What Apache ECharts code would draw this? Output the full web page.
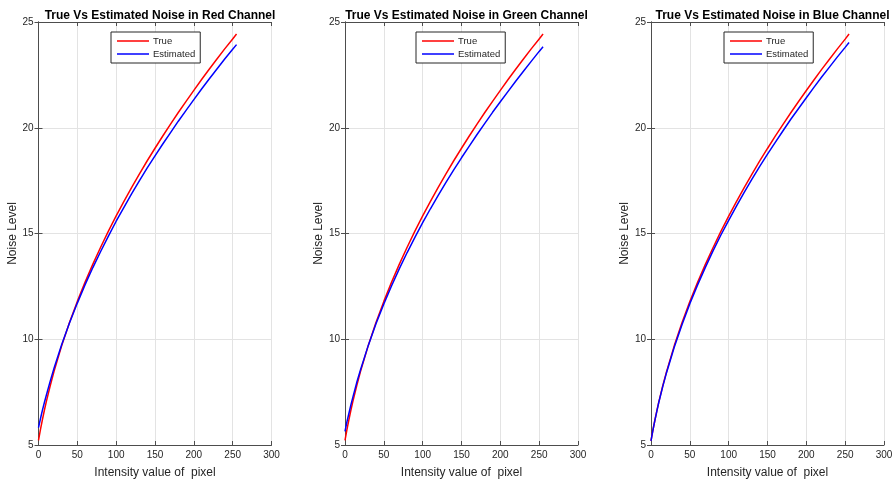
<!DOCTYPE html>
<html>
<head>
<meta charset="utf-8">
<title>True Vs Estimated Noise</title>
<script src="https://cdn.jsdelivr.net/npm/echarts@6/dist/echarts.min.js"></script>
<style>
    html, body { margin: 0; padding: 0; background: #fff; }
    #noise_chart { width: 896px; height: 485px; }
</style>
</head>
<body>
<div id="noise_chart"></div>
<script>

// Chart data
// ------------------------------

var channelNames = ['Red', 'Green', 'Blue'];
var xTicks = [0, 50, 100, 150, 200, 250, 300];
var yTicks = [5, 10, 15, 20, 25];

// Intensity samples shared by all curves
var intensity = [0, 2.5, 5, 7.5, 10, 15, 20, 30, 40, 50, 60, 70, 80, 90, 100, 110, 120, 130, 140, 150, 160, 170, 180, 190, 200, 210, 220, 230, 240, 250, 255];

// Red channel
var redTrue = [5.22, 5.73, 6.19, 6.63, 7.04, 7.79, 8.48, 9.71, 10.80, 11.79, 12.70, 13.55, 14.35, 15.11, 15.83, 16.52, 17.18, 17.82, 18.44, 19.03, 19.61, 20.17, 20.72, 21.25, 21.77, 22.28, 22.78, 23.26, 23.74, 24.20, 24.43];
var redEstimated = [5.82, 6.24, 6.64, 7.00, 7.34, 8.01, 8.63, 9.76, 10.78, 11.71, 12.58, 13.39, 14.15, 14.88, 15.58, 16.24, 16.88, 17.50, 18.10, 18.67, 19.23, 19.77, 20.31, 20.82, 21.33, 21.83, 22.32, 22.79, 23.26, 23.71, 23.93];

// Green channel
var greenTrue = [5.22, 5.73, 6.19, 6.63, 7.04, 7.79, 8.48, 9.71, 10.80, 11.79, 12.70, 13.55, 14.35, 15.11, 15.83, 16.52, 17.18, 17.82, 18.44, 19.03, 19.61, 20.17, 20.72, 21.25, 21.77, 22.28, 22.78, 23.26, 23.74, 24.20, 24.43];
var greenEstimated = [5.64, 6.10, 6.49, 6.88, 7.24, 7.94, 8.56, 9.71, 10.74, 11.67, 12.53, 13.34, 14.10, 14.82, 15.51, 16.17, 16.80, 17.42, 18.01, 18.58, 19.13, 19.68, 20.21, 20.73, 21.23, 21.72, 22.21, 22.68, 23.15, 23.61, 23.83];

// Blue channel
var blueTrue = [5.20, 5.71, 6.17, 6.61, 7.03, 7.78, 8.47, 9.70, 10.79, 11.78, 12.69, 13.54, 14.34, 15.10, 15.82, 16.51, 17.17, 17.81, 18.43, 19.02, 19.60, 20.16, 20.71, 21.24, 21.76, 22.27, 22.77, 23.25, 23.73, 24.19, 24.43];
var blueEstimated = [5.20, 5.70, 6.16, 6.59, 7.01, 7.75, 8.42, 9.63, 10.70, 11.68, 12.57, 13.40, 14.19, 14.93, 15.62, 16.29, 16.94, 17.57, 18.17, 18.75, 19.31, 19.86, 20.40, 20.91, 21.42, 21.92, 22.41, 22.88, 23.35, 23.80, 24.03];


// Setup module
// ------------------------------

var NoiseChannels = function() {

    var _noiseChannelsChart = function() {
        if (typeof echarts == 'undefined') {
            console.warn('Warning - echarts.min.js is not loaded.');
            return;
        }

        var chart_element = document.getElementById('noise_chart');
        if (!chart_element) {
            return;
        }

        var noise_chart = echarts.init(chart_element);

        // Panel layout
        var panelLeft = [38.5, 345, 651];
        var panelWidth = 233;
        var panelTop = 22;
        var panelHeight = 423;
        var legendLeft = [111, 416, 724];

        var axisColor = '#4d4d4d';
        var textColor = '#262626';
        var fontFamily = 'Liberation Sans, Arial, sans-serif';

        var pairs = function(values) {
            return intensity.map(function(x, i) {
                return [x, values[i]];
            });
        };

        var trueSets = [redTrue, greenTrue, blueTrue];
        var estSets = [redEstimated, greenEstimated, blueEstimated];

        var grids = [], xAxes = [], yAxes = [], titles = [], legends = [], series = [];

        channelNames.forEach(function(name, i) {
            grids.push({
                left: panelLeft[i],
                top: panelTop,
                width: panelWidth,
                height: panelHeight,
                containLabel: false
            });

            titles.push({
                text: 'True Vs Estimated Noise in ' + name + ' Channel',
                left: panelLeft[i] + panelWidth / 2,
                top: 5,
                textAlign: 'center',
                textStyle: {
                    fontFamily: fontFamily,
                    fontSize: 12,
                    fontWeight: 'bold',
                    color: '#000'
                }
            });

            legends.push({
                data: ['True', 'Estimated'],
                orient: 'vertical',
                left: legendLeft[i],
                top: 32,
                padding: [4, 5, 4, 6],
                icon: 'path://M0,0 L32,0 L32,1.5 L0,1.5 Z',
                itemWidth: 32,
                itemHeight: 10,
                itemGap: 3,
                backgroundColor: '#fff',
                borderColor: '#262626',
                borderWidth: 1,
                borderRadius: 0,
                selectedMode: false,
                textStyle: {
                    fontFamily: fontFamily,
                    fontSize: 9.5,
                    color: textColor,
                    padding: [0, 0, 0, -1]
                }
            });
        });

        // Bottom/left axes carry the labels, top/right axes close the box
        for (var k = 0; k < 2; k++) {
            channelNames.forEach(function(name, i) {
                var labelled = (k === 0);
                xAxes.push({
                    type: 'value',
                    gridIndex: i,
                    position: labelled ? 'bottom' : 'top',
                    min: xTicks[0],
                    max: xTicks[xTicks.length - 1],
                    interval: 50,
                    name: labelled ? 'Intensity value of  pixel' : '',
                    nameLocation: 'middle',
                    nameGap: 22,
                    nameTextStyle: {
                        fontFamily: fontFamily,
                        fontSize: 12,
                        color: textColor
                    },
                    axisLine: { show: true, lineStyle: { color: axisColor, width: 1 } },
                    axisTick: { show: true, inside: true, length: 4, lineStyle: { color: axisColor } },
                    axisLabel: {
                        show: labelled,
                        margin: 5,
                        fontFamily: fontFamily,
                        fontSize: 10,
                        color: textColor
                    },
                    splitLine: {
                        show: labelled,
                        lineStyle: { color: '#e3e3e3', width: 1 }
                    }
                });
                yAxes.push({
                    type: 'value',
                    gridIndex: i,
                    position: labelled ? 'left' : 'right',
                    min: yTicks[0],
                    max: yTicks[yTicks.length - 1],
                    interval: 5,
                    name: labelled ? 'Noise Level' : '',
                    nameLocation: 'middle',
                    nameGap: 20,
                    nameTextStyle: {
                        fontFamily: fontFamily,
                        fontSize: 12,
                        color: textColor
                    },
                    axisLine: { show: true, lineStyle: { color: axisColor, width: 1 } },
                    axisTick: { show: true, inside: true, length: 4, lineStyle: { color: axisColor } },
                    axisLabel: {
                        show: labelled,
                        margin: 5,
                        fontFamily: fontFamily,
                        fontSize: 10,
                        color: textColor
                    },
                    splitLine: {
                        show: labelled,
                        lineStyle: { color: '#e3e3e3', width: 1 }
                    }
                });
            });
        }

        // Series
        channelNames.forEach(function(name, i) {
            series.push({
                name: 'True',
                type: 'line',
                xAxisIndex: i,
                yAxisIndex: i,
                smooth: false,
                symbol: 'none',
                silent: true,
                lineStyle: { color: '#ff0000', width: 1.5 },
                itemStyle: { color: '#ff0000' },
                data: pairs(trueSets[i])
            });
            series.push({
                name: 'Estimated',
                type: 'line',
                xAxisIndex: i,
                yAxisIndex: i,
                smooth: false,
                symbol: 'none',
                silent: true,
                lineStyle: { color: '#0000ff', width: 1.5 },
                itemStyle: { color: '#0000ff' },
                data: pairs(estSets[i])
            });
        });

        noise_chart.setOption({
            animation: false,
            textStyle: { fontFamily: fontFamily },
            title: titles,
            legend: legends,
            grid: grids,
            xAxis: xAxes,
            yAxis: yAxes,
            series: series
        });
    };

    return {
        init: function() {
            _noiseChannelsChart();
        }
    }
}();


// Initialize module
// ------------------------------

document.addEventListener('DOMContentLoaded', function() {
    NoiseChannels.init();
});
</script>
</body>
</html>
